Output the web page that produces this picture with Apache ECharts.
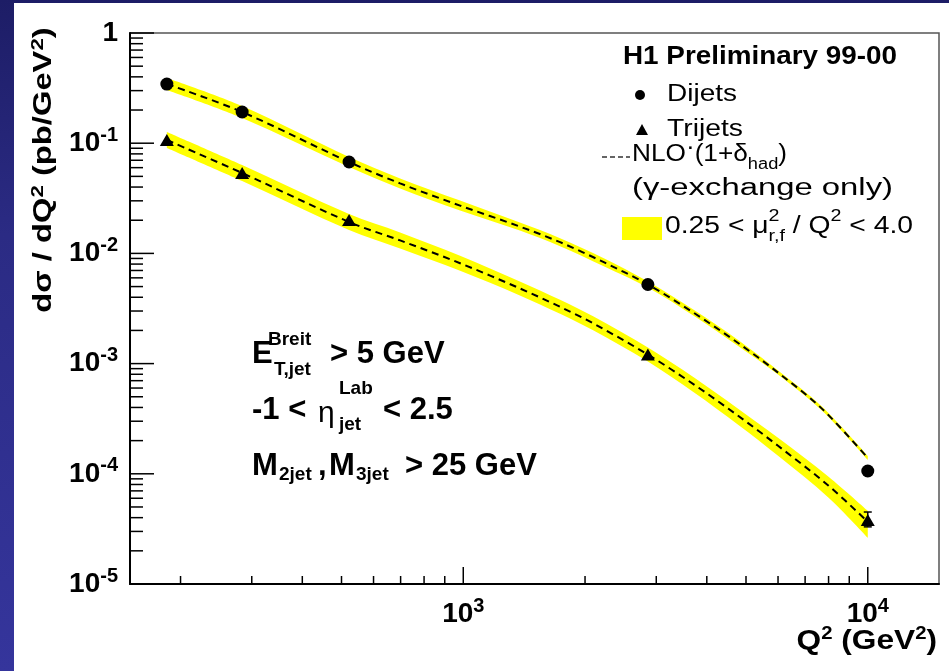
<!DOCTYPE html>
<html><head><meta charset="utf-8">
<script src="https://cdn.jsdelivr.net/npm/echarts@6/dist/echarts.min.js"></script>
<style>
html,body{margin:0;padding:0;width:949px;height:671px;overflow:hidden;background:linear-gradient(180deg,#1d1d66 0%,#2b2b84 35%,#35359c 100%);}
#panel{position:absolute;left:14px;top:3px;right:0;bottom:0;background:#fff;}
#chart{position:absolute;left:0;top:0;width:949px;height:671px;}
</style></head><body><div id="panel"></div><div id="chart"></div>
<script>
// ---------------- data ----------------
const q2Points   = [185, 284, 522, 2860, 10000];
const dijetXsec  = [0.344, 0.192, 0.0675, 0.00522, 1.06e-4];
const trijetXsec = [0.107, 0.0537, 0.0201, 0.00121, 3.81e-5];
const trijetErrLo = [null, null, null, null, 3.3e-5];
const trijetErrHi = [null, null, null, null, 4.5e-5];

const nloQ2Di    = [185, 284, 522, 698, 982, 1380, 1735, 2225, 2860, 3720, 4780, 6000, 7700, 10000];
const nloDijet   = [0.3445, 0.1919, 0.0675, 0.04317, 0.02715, 0.01751, 0.01264, 0.00832, 0.005222, 0.002879, 0.001538, 8.285e-4, 3.905e-4, 1.391e-4];
const nloDijetHi = [0.3905, 0.2175, 0.07494, 0.04793, 0.03014, 0.01904, 0.01374, 0.009046, 0.00556, 0.003065, 0.001638, 8.639e-4, 4.072e-4, 1.450e-4];
const nloDijetLo = [0.3040, 0.1693, 0.0608, 0.03888, 0.02446, 0.01611, 0.01163, 0.007653, 0.004905, 0.002704, 0.001445, 7.946e-4, 3.745e-4, 1.334e-4];

const nloQ2Tri    = [185, 284, 522, 698, 982, 1380, 1735, 2100, 2860, 3720, 4780, 6000, 8000, 10000];
const nloTrijet   = [0.1069, 0.05364, 0.01927, 0.01312, 8.148e-3, 4.813e-3, 3.277e-3, 2.307e-3, 1.207e-3, 6.449e-4, 3.360e-4, 1.795e-4, 7.798e-5, 3.667e-5];
const nloTrijetHi = [0.1263, 0.06339, 0.02277, 0.01551, 9.531e-3, 5.571e-3, 3.793e-3, 2.670e-3, 1.397e-3, 7.465e-4, 3.889e-4, 2.121e-4, 9.412e-5, 4.615e-5];
const nloTrijetLo = [0.09046, 0.04539, 0.01631, 0.01110, 6.966e-3, 4.158e-3, 2.831e-3, 1.993e-3, 1.043e-3, 5.457e-4, 2.784e-4, 1.457e-4, 6.069e-5, 2.625e-5];

// axis ranges and ticks
const xRange = [150, 15000];
const yRange = [1e-5, 1];
const xMajorTicks = [1000, 10000];
const xMinorTicks = [200, 300, 400, 500, 600, 700, 800, 900, 2000, 3000, 4000, 5000, 6000, 7000, 8000, 9000];
const yMajorTicks = [1e-5, 1e-4, 1e-3, 1e-2, 1e-1, 1];
const yMinorTicks = [];
for (let k = -5; k < 0; k++) for (let m = 2; m <= 9; m++) yMinorTicks.push(m * Math.pow(10, k));

// ---------------- helpers ----------------
const FONT = '"Liberation Sans", Arial, Helvetica, sans-serif';
const SMOOTH = 0.33;
const mctx = document.createElement('canvas').getContext('2d');
function tw(t, size, bold) { mctx.font = (bold ? 'bold ' : '') + size + 'px ' + FONT; return mctx.measureText(t).width; }
function seq(x0, y, pieces, opts) {
  opts = opts || {};
  let natural = 0;
  pieces.forEach(p => { if (p.adv !== false && p.at == null) natural += tw(p.t, p.s, p.b); });
  const sx = opts.w ? opts.w / natural : (opts.sx || 1);
  let x = x0; const out = [];
  pieces.forEach(p => {
    if (p.at != null) x = p.at;
    out.push({ type: 'text', x: x, y: y + (p.dy || 0), scaleX: sx, z: 50, silent: true,
      style: { text: p.t, fontSize: p.s, fontWeight: p.b ? 'bold' : 'normal', fontFamily: p.f || FONT,
               fill: '#000', align: 'left', verticalAlign: 'middle' } });
    if (p.adv !== false) x += tw(p.t, p.s, p.b) * sx + (p.g || 0);
  });
  return out;
}
function powFmt(v) {
  const l = Math.log10(v), e = Math.round(l);
  if (Math.abs(l - e) > 1e-6) return '';
  if (e === 0) return '{b|1}';
  return '{b|10}{s|' + e + '}';
}
const labelRich = {
  b: { fontSize: 28, fontWeight: 'bold', fontFamily: FONT, color: '#000', lineHeight: 36 },
  s: { fontSize: 20, fontWeight: 'bold', fontFamily: FONT, color: '#000', lineHeight: 20, verticalAlign: 'top' }
};
// smooth path (same control-point rule as ECharts' line smoothing)
function splinePath(pts, startWithMove) {
  let d = (startWithMove ? 'M' : 'L') + pts[0][0] + ',' + pts[0][1];
  const n = pts.length;
  const cps = pts.map((p, i) => {
    if (i === 0 || i === n - 1) return [p, p];
    const a = pts[i - 1], b = pts[i + 1];
    const vx = b[0] - a[0], vy = b[1] - a[1];
    const d0 = Math.hypot(p[0] - a[0], p[1] - a[1]), d1 = Math.hypot(b[0] - p[0], b[1] - p[1]);
    const r0 = SMOOTH * d0 / (d0 + d1), r1 = SMOOTH * d1 / (d0 + d1);
    return [[p[0] - vx * r0, p[1] - vy * r0], [p[0] + vx * r1, p[1] + vy * r1]];
  });
  for (let i = 1; i < n; i++) {
    const c1 = cps[i - 1][1], c2 = cps[i][0], p = pts[i];
    d += 'C' + c1[0] + ',' + c1[1] + ',' + c2[0] + ',' + c2[1] + ',' + p[0] + ',' + p[1];
  }
  return d;
}
function band(qs, hi, lo) {
  return { type: 'custom', coordinateSystem: 'cartesian2d', silent: true, z: 1, clip: true,
    data: [[qs[0], hi[0]]],
    renderItem: (params, api) => {
      const up = qs.map((q, i) => api.coord([q, hi[i]]));
      const dn = qs.map((q, i) => api.coord([q, lo[i]])).reverse();
      const d = splinePath(up, true) + splinePath(dn, false) + 'Z';
      return { type: 'path', shape: { pathData: d }, style: { fill: '#ffff00', stroke: null } };
    } };
}
function tickSeries(vals, axis, len) {
  return { type: 'custom', coordinateSystem: 'cartesian2d', silent: true, z: 20, clip: false,
    data: vals.map(v => axis === 'x' ? [v, yRange[0]] : [xRange[0], v]),
    renderItem: (params, api) => {
      const c = api.coord([api.value(0), api.value(1)]);
      const shape = axis === 'x' ? { x1: c[0], y1: c[1], x2: c[0], y2: c[1] - len }
                                 : { x1: c[0], y1: c[1], x2: c[0] + len, y2: c[1] };
      return { type: 'line', shape: shape, style: { stroke: '#000', lineWidth: 1.5 } };
    } };
}

// ---------------- chart ----------------
const chart = echarts.init(document.getElementById('chart'), null, { renderer: 'canvas' });
const pair = (xs, ys) => xs.map((x, i) => [x, ys[i]]);

const graphics = [];
// y axis title
graphics.push({ type: 'text', x: 44, y: 170, rotation: Math.PI / 2, scaleX: 1.31, z: 50, silent: true,
  style: { text: '{a|dσ / dQ}{p|2}{a| (pb/GeV}{p|2}{a|)}', align: 'center', verticalAlign: 'middle',
    rich: { a: { fontSize: 25, fontWeight: 'bold', fontFamily: FONT, lineHeight: 28, color: '#000' },
            p: { fontSize: 17, fontWeight: 'bold', fontFamily: FONT, lineHeight: 17, verticalAlign: 'top', color: '#000' } } } });
// x axis title
graphics.push({ type: 'text', x: 937, y: 641, scaleX: 1.13, z: 50, silent: true,
  style: { text: '{a|Q}{p|2}{a| (GeV}{p|2}{a|)}', align: 'right', verticalAlign: 'middle',
    rich: { a: { fontSize: 28, fontWeight: 'bold', fontFamily: FONT, lineHeight: 32, color: '#000' },
            p: { fontSize: 18, fontWeight: 'bold', fontFamily: FONT, lineHeight: 18, verticalAlign: 'top', color: '#000' } } } });
// legend
graphics.push(...seq(623, 57, [{ t: 'H1 Preliminary 99-00', s: 25, b: 1 }], { w: 274 }));
graphics.push({ type: 'circle', shape: { cx: 640, cy: 95, r: 5 }, style: { fill: '#000' }, z: 50, silent: true });
graphics.push(...seq(667, 95, [{ t: 'Dijets', s: 23 }], { w: 70 }));
graphics.push({ type: 'polygon', shape: { points: [[642, 124], [648, 135], [636, 135]] }, style: { fill: '#000' }, z: 50, silent: true });
graphics.push(...seq(667, 130, [{ t: 'Trijets', s: 23 }], { w: 76 }));
graphics.push({ type: 'line', shape: { x1: 602, y1: 157, x2: 630, y2: 157 }, style: { stroke: '#333', lineWidth: 1.5, lineDash: [5, 3] }, z: 50, silent: true });
graphics.push(...seq(632, 155, [{ t: 'NLO', s: 23 }, { t: '·', s: 23, dy: -7 }, { t: '(1+δ', s: 23 }, { t: 'had', s: 16, dy: 10 }, { t: ')', s: 23 }], { w: 155 }));
graphics.push(...seq(632, 189, [{ t: '(γ-exchange only)', s: 23 }], { w: 261 }));
graphics.push({ type: 'rect', shape: { x: 622, y: 217, width: 40, height: 23 }, style: { fill: '#ffff00' }, z: 50, silent: true });
graphics.push(...seq(665, 227, [{ t: '0.25 < μ', s: 23 }, { t: '2', s: 16, dy: -10, adv: false }, { t: 'r,f', s: 16, dy: 10 },
  { t: ' / Q', s: 23 }, { t: '2', s: 16, dy: -10 }, { t: ' < 4.0', s: 23 }], { w: 248 }));
// cuts annotation
graphics.push(...seq(252, 354, [{ t: 'E', s: 31, b: 1 }, { t: 'Breit', s: 19, b: 1, at: 268, dy: -14, adv: false },
  { t: 'T,jet', s: 19, b: 1, at: 274, dy: 16 }, { t: '> 5 GeV', s: 31, b: 1, at: 330 }]));
graphics.push(...seq(252, 410, [{ t: '-1 <', s: 31, b: 1 }, { t: 'η', s: 30, at: 318, dy: 4 }, { t: 'Lab', s: 19, b: 1, at: 339, dy: -21, adv: false },
  { t: 'jet', s: 19, b: 1, at: 339, dy: 15 }, { t: '< 2.5', s: 31, b: 1, at: 383 }]));
graphics.push(...seq(252, 466, [{ t: 'M', s: 31, b: 1 }, { t: '2jet', s: 19, b: 1, at: 279, dy: 9 }, { t: ',', s: 31, b: 1, at: 318 },
  { t: 'M', s: 31, b: 1, at: 329 }, { t: '3jet', s: 19, b: 1, at: 356, dy: 9 }, { t: '> 25 GeV', s: 31, b: 1, at: 405 }]));

const option = {
  animation: false,
  textStyle: { fontFamily: FONT },
  grid: { left: 130, top: 33, right: 10, bottom: 87, show: true, borderColor: '#555', borderWidth: 1.5,
          backgroundColor: 'transparent', containLabel: false, outerBoundsMode: 'none' },
  xAxis: { type: 'log', logBase: 10, min: xRange[0], max: xRange[1],
    axisLine: { show: true, onZero: false, lineStyle: { color: '#000', width: 2 } },
    axisTick: { show: false }, minorTick: { show: false }, splitLine: { show: false },
    axisLabel: { margin: 12, formatter: powFmt, rich: labelRich, showMinLabel: true, showMaxLabel: true } },
  yAxis: { type: 'log', logBase: 10, min: yRange[0], max: yRange[1],
    axisLine: { show: true, onZero: false, lineStyle: { color: '#000', width: 2 } },
    axisTick: { show: false }, minorTick: { show: false }, splitLine: { show: false },
    axisLabel: { margin: 12, formatter: powFmt, rich: labelRich } },
  graphic: graphics,
  series: [
    band(nloQ2Di, nloDijetHi, nloDijetLo),
    band(nloQ2Tri, nloTrijetHi, nloTrijetLo),
    { type: 'line', data: pair(nloQ2Di, nloDijet), showSymbol: false, symbol: 'none', smooth: SMOOTH, z: 3, silent: true,
      lineStyle: { color: '#000', width: 2, type: [7, 5] } },
    { type: 'line', data: pair(nloQ2Tri, nloTrijet), showSymbol: false, symbol: 'none', smooth: SMOOTH, z: 3, silent: true,
      lineStyle: { color: '#000', width: 2, type: [7, 5] } },
    { type: 'custom', coordinateSystem: 'cartesian2d', z: 4, silent: true,
      data: q2Points.map((q, i) => [q, trijetErrLo[i], trijetErrHi[i]]).filter(d => d[1] != null),
      renderItem: (params, api) => {
        const a = api.coord([api.value(0), api.value(1)]), b = api.coord([api.value(0), api.value(2)]);
        return { type: 'group', children: [
          { type: 'line', shape: { x1: a[0], y1: a[1], x2: b[0], y2: b[1] }, style: { stroke: '#000', lineWidth: 1.5 } },
          { type: 'line', shape: { x1: a[0] - 4, y1: a[1], x2: a[0] + 4, y2: a[1] }, style: { stroke: '#000', lineWidth: 1.5 } },
          { type: 'line', shape: { x1: b[0] - 4, y1: b[1], x2: b[0] + 4, y2: b[1] }, style: { stroke: '#000', lineWidth: 1.5 } } ] };
      } },
    { type: 'scatter', data: pair(q2Points, dijetXsec), symbol: 'circle', symbolSize: 13, z: 5, silent: true, itemStyle: { color: '#000', opacity: 1 } },
    { type: 'scatter', data: pair(q2Points, trijetXsec), symbol: 'triangle', symbolSize: [14, 12], z: 5, silent: true, itemStyle: { color: '#000', opacity: 1 } },
    tickSeries(xMajorTicks, 'x', 17),
    tickSeries(xMinorTicks, 'x', 8),
    tickSeries(yMajorTicks, 'y', 24),
    tickSeries(yMinorTicks, 'y', 13)
  ]
};
chart.setOption(option);
</script></body></html>
